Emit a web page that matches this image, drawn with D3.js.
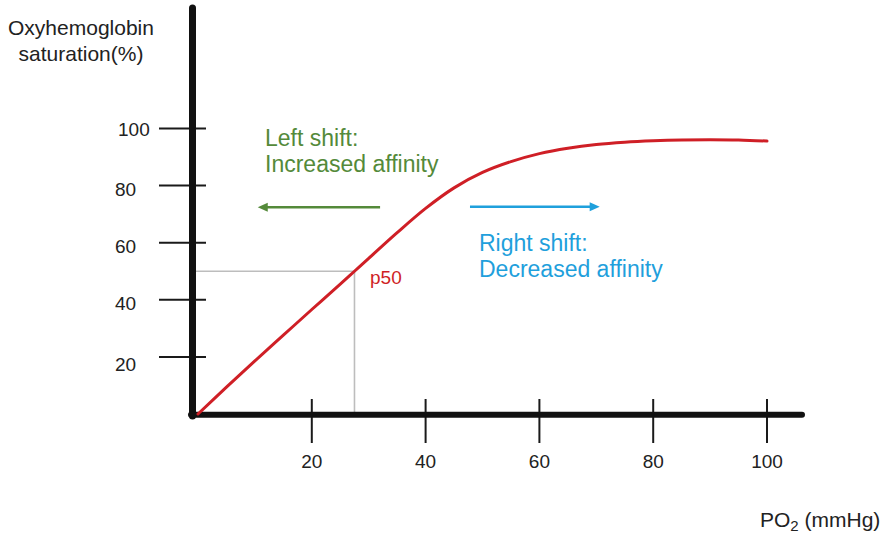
<!DOCTYPE html>
<html>
<head>
<meta charset="utf-8">
<script src="https://cdn.jsdelivr.net/npm/d3@7"></script>
<style>
  html, body { margin: 0; padding: 0; background: #fff; }
  svg { display: block; }
  text { font-family: "Liberation Sans", Arial, Helvetica, sans-serif; }
</style>
</head>
<body>
<svg id="chart" width="887" height="534"></svg>
<script>
// Oxygen–haemoglobin dissociation curve
const po2 = [0, 5, 10, 15, 20, 25, 27.5, 30, 35, 40, 45, 50, 55, 60, 65, 70, 75, 80, 85, 90, 95, 100];
const saturation = [0, 9.4, 18.6, 27.6, 36.6, 45.5, 50, 54.5, 63.5, 72, 79.2, 84.6, 88.4, 91.2, 93.1, 94.4, 95.2, 95.7, 96, 96.1, 96, 95.6];
const xTicks = [20, 40, 60, 80, 100];
const yTicks = [20, 40, 60, 80, 100];
const p50 = { po2: 27.5, saturation: 50 };

const svg = d3.select("#chart");
const x = d3.scaleLinear().domain([0, 100]).range([198, 767]);
const y = d3.scaleLinear().domain([0, 100]).range([414, 128.5]);

const ink = "#1a1a1a";
const red = "#cf1f26";
const green = "#548a3a";
const blue = "#1fa0dc";

// guide lines to the p50 point
svg.append("line")
  .attr("x1", 195).attr("x2", x(p50.po2))
  .attr("y1", y(p50.saturation)).attr("y2", y(p50.saturation))
  .attr("stroke", "#bdbdbd").attr("stroke-width", 1.6);
svg.append("line")
  .attr("x1", x(p50.po2)).attr("x2", x(p50.po2))
  .attr("y1", y(p50.saturation)).attr("y2", y(0))
  .attr("stroke", "#bdbdbd").attr("stroke-width", 1.6);

// y ticks and labels
svg.append("g").selectAll("line").data(yTicks).join("line")
  .attr("x1", 159).attr("x2", 206)
  .attr("y1", d => y(d)).attr("y2", d => y(d))
  .attr("stroke", ink).attr("stroke-width", 2);
svg.append("g").selectAll("text").data(yTicks).join("text")
  .attr("x", d => d === 100 ? 118 : 115)
  .attr("y", d => y(d) + (d === 100 ? 7.5 : d === 20 ? 14 : 10))
  .attr("font-size", 19).attr("fill", "#222")
  .text(d => d);

// x ticks and labels
svg.append("g").selectAll("line").data(xTicks).join("line")
  .attr("x1", d => x(d)).attr("x2", d => x(d))
  .attr("y1", 399).attr("y2", 443)
  .attr("stroke", ink).attr("stroke-width", 2);
svg.append("g").selectAll("text").data(xTicks).join("text")
  .attr("x", d => x(d)).attr("y", 468)
  .attr("text-anchor", "middle")
  .attr("font-size", 19).attr("fill", "#222")
  .text(d => d);

// axes
svg.append("line")
  .attr("x1", 192.5).attr("x2", 192.5).attr("y1", 8).attr("y2", 416)
  .attr("stroke", "#111").attr("stroke-width", 7).attr("stroke-linecap", "round");
svg.append("line")
  .attr("x1", 191).attr("x2", 802).attr("y1", 414.7).attr("y2", 414.7)
  .attr("stroke", "#111").attr("stroke-width", 6).attr("stroke-linecap", "round");

// dissociation curve
const line = d3.line()
  .x((d, i) => x(po2[i]))
  .y((d, i) => y(saturation[i]))
  .curve(d3.curveCatmullRom.alpha(0.5));
svg.append("path")
  .datum(po2)
  .attr("d", line)
  .attr("fill", "none")
  .attr("stroke", red).attr("stroke-width", 3)
  .attr("stroke-linecap", "round");

svg.append("text")
  .attr("x", 370).attr("y", 284)
  .attr("font-size", 19).attr("fill", red)
  .text("p50");

// shift arrows
function arrow(x1, x2, yv, color) {
  const dir = Math.sign(x2 - x1);
  const tip = x(x2), yy = y(yv);
  svg.append("line")
    .attr("x1", x(x1)).attr("x2", tip - dir * 6)
    .attr("y1", yy).attr("y2", yy)
    .attr("stroke", color).attr("stroke-width", 2.6);
  svg.append("path")
    .attr("d", `M${tip},${yy} L${tip - dir * 10},${yy - 4.5} L${tip - dir * 10},${yy + 4.5} Z`)
    .attr("fill", color);
}
arrow(32, 10.5, 72.4, green);
arrow(47.8, 70.6, 72.6, blue);

// annotations
const leftText = svg.append("text").attr("font-size", 23).attr("fill", green);
leftText.append("tspan").attr("x", 265).attr("y", 146).text("Left shift:");
leftText.append("tspan").attr("x", 265).attr("y", 172).text("Increased affinity");

const rightText = svg.append("text").attr("font-size", 23).attr("fill", blue);
rightText.append("tspan").attr("x", 479).attr("y", 251).text("Right shift:");
rightText.append("tspan").attr("x", 479).attr("y", 277).text("Decreased affinity");

// axis titles
const yTitle = svg.append("text").attr("font-size", 21).attr("fill", "#222").attr("text-anchor", "middle");
yTitle.append("tspan").attr("x", 81).attr("y", 35).text("Oxyhemoglobin");
yTitle.append("tspan").attr("x", 81).attr("y", 61).text("saturation(%)");

const xTitle = svg.append("text").attr("x", 760).attr("y", 527).attr("font-size", 21).attr("fill", "#222");
xTitle.append("tspan").text("PO");
xTitle.append("tspan").attr("font-size", 15).attr("dy", 4).text("2");
xTitle.append("tspan").attr("dy", -4).text(" (mmHg)");
</script>
</body>
</html>
